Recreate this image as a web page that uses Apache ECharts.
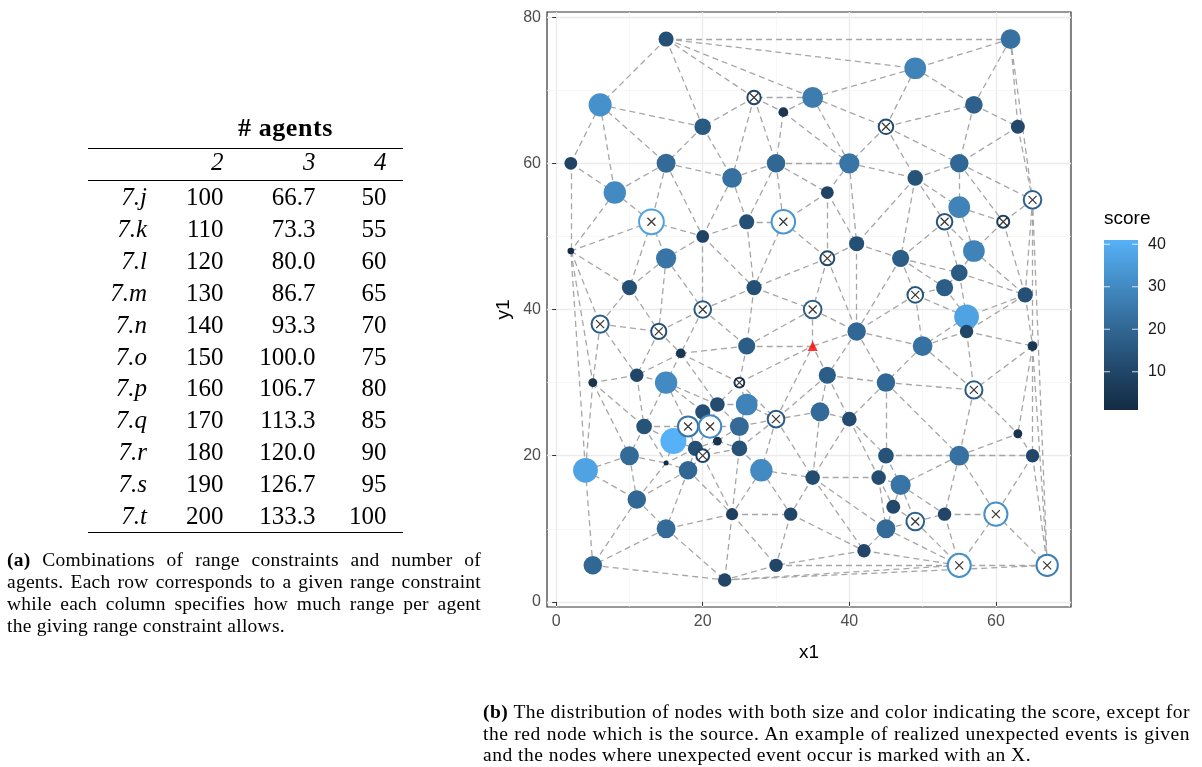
<!DOCTYPE html>
<html><head><meta charset="utf-8">
<script src="https://cdn.jsdelivr.net/npm/echarts@6/dist/echarts.min.js"></script>
<style>
body{margin:0;background:#fff}
#chart{position:absolute;left:0;top:0;width:1202px;height:767px}
.t{position:absolute;font-family:'Liberation Serif',serif;color:#000;line-height:1;white-space:nowrap}
.r{text-align:right}
.rule{position:absolute;left:88px;width:315px;background:#000}
</style></head><body>
<div id="chart"></div>
<div id="overlay"></div>
<script>
// ---------- table (a) ----------
const tableTitle='# agents';
const agentCounts=['2','3','4'];
const rowLabels=['7.j','7.k','7.l','7.m','7.n','7.o','7.p','7.q','7.r','7.s','7.t'];
const range2=['100','110','120','130','140','150','160','170','180','190','200'];
const range3=['66.7','73.3','80.0','86.7','93.3','100.0','106.7','113.3','120.0','126.7','133.3'];
const range4=['50','55','60','65','70','75','80','85','90','95','100'];
const captionA=['Combinations of range constraints and number of','agents. Each row corresponds to a given range constraint','while each column specifies how much range per agent','the giving range constraint allows.'];
const captionB=['The distribution of nodes with both size and color indicating the score, except for','the red node which is the source. An example of realized unexpected events is given','and the nodes where unexpected event occur is marked with an X.'];

// ---------- network (b) ----------
const nodeX=[15,62,6,35,27,49,31,20,45,57, 63,2,15,24,30,40,49,55,8,37, 65,13,26,31,20,53,61,55,2,15, 41,37,47,57,55,10,27,53,49,64, 6,14,20,35,41,56,56,26,50,65, 17,11,5,15,25,37,45,57,20,22, 26,36,40,30,12,18,21,25,16,22, 19,25,20,10,15,4,18,28,45,55, 65,63,35,44,47,46,11,24,32,45, 49,53,60,15,42,5,30,55,67,23];
const nodeY=[77,77,68,69,69,73,67,65,65,68, 65,60,60,58,60,60,58,60,56,56, 55,52,52,52,50,52,52,54,48,47, 49,47,47,48,45,43,43,43,42,42, 38,37,40,40,37,39,37,35,35,35, 34,31,30,30,30,31,30,29,26,27, 27,26,25,25,24,24,24,24,22,22, 21,21,20,20,19,18,18,18,20,20, 20,23,17,17,16,13,14,12,12,10, 11,12,12,10,7,5,5,5,5,3];
const nodeScore=[13,23,32,26,10,28,5,16,12,18, 11,9,21,23,20,24,14,20,30,9, 18,37,13,33,9,14,8,28,2,24, 13,11,17,28,16,13,13,17,14,13, 17,13,16,18,20,37,10,17,23,5, 5,10,4,30,5,17,20,17,13,12, 28,21,12,16,14,24,30,21,41,4, 13,14,9,21,1,37,20,30,14,23, 10,4,12,12,24,11,20,8,10,21, 18,10,32,21,10,20,10,32,27,10];
const nodeEvent=[0,0,0,0,1,0,0,0,1,0, 0,0,0,0,0,0,0,0,0,0, 1,1,0,1,0,1,1,0,0,0, 0,1,0,0,0,0,0,0,1,0, 1,1,1,1,0,0,0,0,0,0, 0,0,0,0,1,0,0,1,0,0, 0,0,0,1,0,1,1,0,0,0, 0,0,1,0,0,0,0,0,0,0, 0,0,0,0,0,0,0,0,0,0, 1,0,1,0,0,0,0,1,1,0];
const sourceX=[35], sourceY=[35];   // node index 100
// links: for node i, the nodes j>i it is joined to
const neighbours=[[1,2,3,4,5,7],[5,9,10,20],[7,11,12,18],[4,5,6,8,15],[6,7,13,14],[8,9],[14,15],[12,13],[9,15,16,17],[10,17],
[17,20],[18,28],[13,18,21,24],[14,22,24],[15,19,22,23],[16,19,30],[17,25,27,30,32],[20,26,27],[21,28],[23,30,31],
[26,39,49,98],[24,28,29,35],[23,24,36],[31,36],[29,36,42],[27,32,33,34],[27,33,39],[33],[35,40,52,75],[35,41,42],
[31,32,44],[36,43,44],[34,37,38,44],[34,39],[37,39,45],[40,41],[42,43,47],[38,45],[44,45,48],[45,46,49],
[41,51,52],[42,50,51],[47,50],[44,47,100],[48,55,56,100],[46,48],[48,49,57],[50,54,100],[56,57],[57,80,81,98],
[51,53,54,59],[52,53,64],[64,73,75],[58,59,64,65],[59,60,63,100],[56,61,62,63,100],[57,62,78,79],[79,81],[59,65,66],[60,66,67],
[63,67],[62,63,82],[78,82,83],[67,71,77,82,100],[65,68,73,74],[66,68,70],[67,69,70],[69,71],[70,74],[70,71,72],
[72,74,76],[72,77,87],[76,87],[74,75,86],[76,86],[86,95],[86,87,93],[82,87,88],[79,83,84],[80,81,84,91,92],
[81,92,98],[],[83,88,89,94],[84,85,89],[85,90,91],[89,90],[93,95],[88,93,96,99],[94,96],[90,94,97],
[91,97],[92,97],[97,98],[95,99],[96,97],[99],[97,99],[98,99],[99],[],[]];
const xTicks=[0,20,40,60], yTicks=[0,20,40,60,80], colorTicks=[10,20,30,40];
const xGrid=[0,10,20,30,40,50,60,70], yGrid=[0,10,20,30,40,50,60,70,80];

// ---------- HTML text for (a) and captions ----------
const ov=document.getElementById('overlay');
function addText(txt,opt){const d=document.createElement('div');d.className='t'+(opt.right?' r':'');
  d.style.fontSize=opt.size+'px';d.style.top=(opt.base-0.8375*opt.size)+'px';
  if(opt.right){d.style.right=(1202-opt.x)+'px';}else{d.style.left=opt.x+'px';}
  if(opt.italic)d.style.fontStyle='italic'; if(opt.bold)d.style.fontWeight='bold';
  if(opt.ls)d.style.letterSpacing=opt.ls+'px';
  if(opt.html)d.innerHTML=txt;else d.textContent=txt; ov.appendChild(d);return d;}
function rule(y,h){const d=document.createElement('div');d.className='rule';d.style.top=y+'px';d.style.height=h+'px';ov.appendChild(d);}
const F=25;
const tt=addText(tableTitle,{x:236,base:137,size:26,bold:true,ls:0.6});
tt.style.left=(285.5-tt.getBoundingClientRect().width/2)+'px';
rule(147.5,1.3); rule(180.2,0.9); rule(531.5,1.3);
const colRight=[223.5,315.5,386.5];
agentCounts.forEach((c,i)=>addText(c,{x:colRight[i],base:170,size:F,italic:true,right:true}));
rowLabels.forEach((lab,k)=>{const b=205+31.9*k;
  addText(lab,{x:147,base:b,size:F,italic:true,right:true});
  addText(range2[k],{x:colRight[0],base:b,size:F,right:true});
  addText(range3[k],{x:colRight[1],base:b,size:F,right:true});
  addText(range4[k],{x:colRight[2],base:b,size:F,right:true});});
function caption(label,lines,x0,x1,base0,step,size,ls){
  lines.forEach((ln,k)=>{const html=(k===0?'<b>'+label+'</b> ':'')+ln.replace(/&/g,'&amp;');
    const d=addText(html,{x:x0,base:base0+step*k,size:size,html:true,ls:ls});
    if(k<lines.length-1){const w=d.getBoundingClientRect().width;const n=(d.textContent.match(/ /g)||[]).length;
      d.style.wordSpacing=((x1-x0-w)/n)+'px';}});}
caption('(a)',captionA,7,481,566.5,21.9,19.5,0.25);
caption('(b)',captionB,483,1190,718,21.9,19.5,0.5);

// ---------- chart ----------
const palette=['#132B43','#22496C','#336A98','#448DC6','#56B1F7'];
const sMin=1,sMax=41;
function sizeOf(s){return 5+21*(Math.sqrt(s)-Math.sqrt(sMin))/(Math.sqrt(sMax)-Math.sqrt(sMin));}
const allX=nodeX.concat(sourceX), allY=nodeY.concat(sourceY);
const filled=[],hollow=[],marks=[];
nodeX.forEach((x,i)=>{const d=[x,nodeY[i],nodeScore[i]]; if(nodeEvent[i]){hollow.push(d);marks.push([x,nodeY[i]]);} else filled.push(d);});
const edgeData=[];
neighbours.forEach((l,i)=>l.forEach(j=>edgeData.push({coords:[[allX[i],allY[i]],[allX[j],allY[j]]]})));
const gridLines=[];
xGrid.forEach(v=>gridLines.push({xAxis:v,lineStyle:{color:v%20?'#F3F3F3':'#EBEBEB',width:v%20?0.7:1.3,type:'solid'}}));
yGrid.forEach(v=>gridLines.push({yAxis:v,lineStyle:{color:v%20?'#F3F3F3':'#EBEBEB',width:v%20?0.7:1.3,type:'solid'}}));
const chart=echarts.init(document.getElementById('chart'),null,{renderer:'canvas'});
chart.setOption({
  animation:false,
  textStyle:{fontFamily:'Liberation Sans'},
  grid:[{left:547,top:12,width:524,height:595,show:true,borderColor:'#333',borderWidth:1.2,backgroundColor:'transparent'},
        {left:1104,top:240,width:34,height:170}],
  xAxis:[{type:'value',min:-1.25,max:70.25,gridIndex:0,name:'x1',nameLocation:'middle',nameGap:36,nameTextStyle:{fontSize:19,color:'#000'},
    axisLine:{show:false},splitLine:{show:false},axisTick:{show:true,length:4,lineStyle:{color:'#333'},customValues:xTicks},
    axisLabel:{customValues:xTicks,fontSize:16,color:'#4D4D4D',margin:7}},
    {type:'value',min:0,max:1,gridIndex:1,show:false}],
  yAxis:[{type:'value',min:-0.7,max:80.7,gridIndex:0,name:'y1',nameLocation:'middle',nameRotate:90,nameGap:34,nameTextStyle:{fontSize:19,color:'#000'},
    axisLine:{show:false},splitLine:{show:false},axisTick:{show:true,length:4,lineStyle:{color:'#333'},customValues:yTicks},
    axisLabel:{customValues:yTicks,fontSize:16,color:'#4D4D4D',margin:6}},
    {type:'value',min:sMin,max:sMax,gridIndex:1,position:'right',axisLine:{show:false},axisTick:{show:false},splitLine:{show:false},
     axisLabel:{customValues:colorTicks,fontSize:16,color:'#1A1A1A',margin:10}}],
  visualMap:{show:false,type:'continuous',min:sMin,max:sMax,dimension:2,seriesIndex:[2,3],inRange:{color:palette}},
  graphic:[{type:'text',left:1104,top:209,style:{text:'score',fontSize:19,fill:'#000',fontFamily:'Liberation Sans'}}],
  series:[
    {type:'scatter',data:[[-500,-500]],symbolSize:0,silent:true,z:0,markLine:{z:0,silent:true,symbol:'none',label:{show:false},animation:false,data:gridLines}},
    {type:'lines',coordinateSystem:'cartesian2d',data:edgeData,silent:true,z:2,lineStyle:{color:'#A6A6A6',width:1.3,type:[6,4],opacity:1}},
    {type:'scatter',data:filled,symbol:'circle',symbolSize:v=>sizeOf(v[2]),z:3,itemStyle:{opacity:1}},
    {type:'scatter',data:hollow,symbol:'emptyCircle',symbolSize:v=>sizeOf(v[2]),z:4,itemStyle:{borderWidth:1.1,opacity:1}},
    {type:'scatter',data:marks,symbol:'path://M0,0L10,10M10,0L0,10',symbolSize:8,z:5,itemStyle:{color:'none',borderColor:'#000',borderWidth:1.2}},
    {type:'scatter',data:sourceX.map((x,i)=>[x,sourceY[i]]),symbol:'triangle',symbolSize:10,z:6,itemStyle:{color:'#FF0000'}},
    {type:'custom',xAxisIndex:1,yAxisIndex:1,data:[[0,sMin,sMax]],silent:true,renderItem:(p,api)=>{
      const a=api.coord([0,api.value(1)]),b=api.coord([1,api.value(2)]);
      const items=[{type:'rect',shape:{x:a[0],y:b[1],width:b[0]-a[0],height:a[1]-b[1]},style:{fill:new echarts.graphic.LinearGradient(0,1,0,0,palette.map((c,i)=>({offset:i/(palette.length-1),color:c})))}}];
      colorTicks.forEach(t=>{const l=api.coord([0,t]),r=api.coord([1,t]);
        items.push({type:'line',shape:{x1:l[0],y1:l[1],x2:l[0]+6,y2:l[1]},style:{stroke:'#fff',lineWidth:1,opacity:0.8}});
        items.push({type:'line',shape:{x1:r[0]-6,y1:r[1],x2:r[0],y2:r[1]},style:{stroke:'#fff',lineWidth:1,opacity:0.8}});});
      return {type:'group',children:items};}}
  ]
});
</script></body></html>
